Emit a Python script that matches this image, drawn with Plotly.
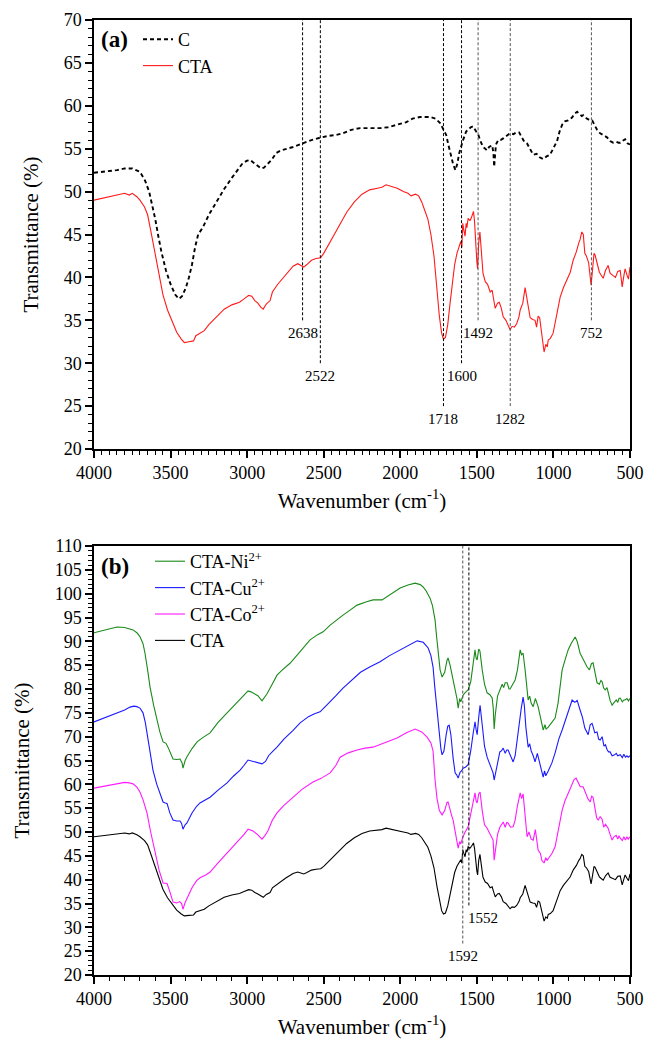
import plotly.graph_objects as go

# ---------------- data ----------------
cta_wn = [4000,3950,3900,3850,3800,3770,3750,3720,3700,3670,3650,3630,3610,3590,3570,3550,3520,3490,3460,3430,
          3410,3380,3350,3335,3310,3280,3250,3200,3150,3100,3050,3020,2990,2970,2950,2930,2910,2895,2875,2850,
          2835,2800,2750,2700,2670,2650,2630,2610,2580,2550,2520,2500,2470,2430,2400,2350,2300,2250,2200,2150,
          2120,2093,2060,2020,1980,1950,1930,1900,1880,1860,1840,1820,1800,1780,1760,1745,1730,1718,1705,1690,
          1675,1660,1645,1630,1615,1605,1598,1592,1585,1577,1570,1565,1557,1545,1535,1522,1515,1507,1500,1495,
          1488,1480,1472,1460,1445,1430,1413,1400,1392,1380,1365,1354,1340,1328,1310,1295,1283,1270,1255,1240,
          1225,1217,1200,1185,1175,1165,1152,1135,1120,1110,1100,1090,1080,1070,1061,1050,1040,1034,1020,1002,
          990,975,956,935,911,890,871,850,835,826,815,805,795,785,770,760,754,745,735,728,
          715,700,690,675,660,643,630,620,610,595,580,564,551,540,532,520,510,500]
cta_t = [49.0,49.2,49.4,49.6,49.8,49.6,49.8,49.4,49.0,48.2,47.3,45.5,43.5,41.5,39.5,38.0,36.2,34.8,33.6,32.8,
         32.4,32.5,32.6,33.2,33.5,33.8,34.5,35.4,36.3,36.8,37.1,37.5,37.9,37.8,37.3,37.0,36.5,36.3,36.9,37.3,
         38.3,39.2,40.3,41.3,41.6,41.4,41.2,41.5,42.0,42.2,42.3,42.8,43.8,45.0,46.0,47.6,48.8,49.7,50.2,50.4,
         50.5,50.8,50.6,50.4,50.0,49.8,49.5,49.7,49.5,48.8,47.8,46.8,45.0,42.5,38.5,35.5,33.5,32.8,33.0,34.5,
         37.0,39.5,41.5,42.8,43.8,44.2,43.5,46.3,45.5,44.8,46.3,45.8,46.9,46.6,47.0,47.7,46.5,43.5,41.8,41.0,
         44.0,45.3,43.5,40.5,39.5,39.2,38.3,38.5,37.6,36.4,37.0,37.1,36.4,35.4,35.0,34.3,33.9,34.3,34.2,34.6,
         35.4,36.2,37.0,38.8,37.8,36.5,35.3,35.1,35.0,34.2,35.5,35.3,33.8,32.6,31.3,32.2,31.9,32.7,32.9,33.5,
         34.5,36.0,37.7,38.8,39.7,40.6,42.0,43.0,44.0,44.4,45.3,45.0,42.8,42.5,41.7,39.7,39.1,40.8,42.8,42.6,
         41.5,40.6,40.3,39.9,40.8,41.4,40.5,40.4,40.2,40.0,40.7,40.8,38.9,40.2,41.0,40.3,39.8,41.2]

c_wn = [4000,3950,3900,3850,3800,3750,3700,3667,3640,3620,3600,3580,3560,3530,3500,3470,3445,3425,3400,3380,
        3360,3340,3320,3290,3250,3200,3150,3100,3060,3030,3000,2980,2960,2940,2910,2890,2860,2840,2810,2780,
        2740,2700,2640,2580,2520,2470,2420,2374,2320,2263,2200,2132,2080,2021,1960,1920,1871,1806,1770,1740,
        1715,1700,1688,1670,1655,1640,1628,1615,1600,1590,1570,1540,1525,1505,1490,1479,1460,1445,1434,1420,
        1400,1392,1387,1380,1375,1361,1345,1328,1305,1283,1260,1245,1224,1205,1190,1172,1150,1132,1110,1090,
        1067,1045,1022,1000,976,960,943,925,904,880,860,845,830,815,806,790,770,747,730,715,
        695,680,665,649,630,610,590,575,564,550,532,515,500]
c_t = [52.2,52.3,52.4,52.5,52.7,52.7,52.3,51.3,50.0,48.5,46.8,44.8,43.0,40.8,39.2,38.0,37.5,37.8,38.8,40.0,
       41.5,43.5,45.0,45.8,47.3,48.8,50.3,51.6,52.6,53.3,53.6,53.7,53.4,53.1,52.7,52.8,53.3,53.7,54.5,54.8,
       55.0,55.2,55.6,56.0,56.3,56.5,56.6,56.8,57.2,57.4,57.4,57.4,57.5,57.8,58.1,58.5,58.7,58.7,58.5,58.0,
       57.2,56.6,55.6,54.2,53.2,52.5,53.2,54.5,55.6,56.0,57.0,57.5,57.6,57.0,56.6,56.0,55.2,55.0,54.8,55.2,
       55.4,54.5,52.9,54.5,55.5,56.0,56.0,56.2,56.5,56.8,56.7,56.9,56.9,56.3,55.8,55.6,54.9,54.3,54.4,54.0,
       53.8,54.1,54.3,55.0,55.9,57.0,57.8,58.2,58.3,58.6,59.1,59.3,59.1,58.8,58.9,58.6,58.4,58.3,57.7,57.2,
       56.8,56.6,56.5,56.3,55.9,55.7,55.8,55.7,55.7,55.9,56.1,55.6,55.5]

ni_wn = [4000,3950,3900,3850,3800,3745,3720,3700,3680,3667,3650,3634,3610,3589,3570,3549,3530,3517,3500,3484,
         3460,3438,3425,3419,3405,3393,3360,3327,3290,3242,3190,3131,3060,3020,2994,2975,2961,2930,2903,2885,
         2870,2840,2805,2770,2720,2650,2589,2540,2504,2458,2420,2374,2330,2282,2220,2178,2119,2060,2001,1950,
         1903,1870,1851,1830,1805,1790,1773,1763,1753,1740,1727,1710,1695,1688,1675,1665,1655,1640,1630,1622,
         1612,1605,1595,1590,1575,1557,1540,1525,1512,1505,1498,1488,1480,1465,1450,1433,1415,1400,1393,1387,
         1380,1365,1348,1335,1325,1315,1302,1290,1283,1265,1250,1235,1225,1217,1208,1198,1185,1172,1165,1155,
         1145,1132,1118,1100,1085,1075,1067,1055,1048,1034,1020,1005,989,970,955,943,925,904,885,870,
         858,845,835,826,810,795,780,765,752,741,730,715,700,690,682,672,662,650,640,630,
         617,605,590,580,572,564,550,540,532,520,510,500]
ni_t = [91.8,92.2,92.6,93.0,92.9,92.4,91.8,91.0,89.5,87.5,84.0,80.4,76.5,73.5,71.0,68.9,68.6,67.8,66.5,65.3,
        65.2,65.3,64.5,63.4,65.0,65.8,67.5,68.9,69.8,70.8,73.0,75.0,77.3,78.7,79.6,79.4,79.2,78.6,77.5,78.3,
        79.0,80.8,82.9,84.0,85.4,88.0,90.3,91.4,92.0,93.4,94.4,95.5,96.5,97.6,98.3,98.7,98.7,100.0,101.2,101.8,
        102.2,101.9,101.4,100.5,99.0,97.5,94.5,91.0,87.5,84.0,82.5,83.5,86.0,86.5,85.0,83.5,82.5,79.5,78.0,76.0,
        78.0,77.3,78.5,78.7,79.3,79.8,81.5,85.5,88.2,86.5,86.1,88.4,88.0,84.0,81.0,79.2,78.8,78.1,76.0,71.6,
        74.5,78.5,79.8,81.0,80.3,81.3,81.3,80.0,80.0,81.0,81.9,84.0,86.5,88.2,87.2,87.5,84.0,80.0,77.7,78.5,
        77.0,76.3,78.0,76.3,74.0,72.8,71.4,72.5,71.6,72.0,72.6,73.0,73.9,77.0,80.5,84.0,86.0,88.2,89.5,90.3,
        90.9,90.0,88.5,87.5,86.5,85.5,84.6,84.0,85.3,85.5,84.0,81.3,81.0,81.8,81.5,80.2,79.8,80.3,79.0,77.6,
        76.6,77.0,77.7,77.2,78.0,78.1,77.3,77.7,77.7,78.0,77.5,78.0]

cu_wn = [4000,3950,3900,3850,3800,3765,3740,3720,3700,3680,3665,3650,3630,3615,3590,3565,3549,3535,3523,3505,
         3484,3460,3438,3428,3419,3405,3393,3360,3330,3308,3270,3242,3190,3131,3090,3046,3020,2994,2960,2930,
         2903,2880,2860,2830,2805,2760,2700,2654,2600,2560,2524,2490,2458,2420,2374,2320,2260,2200,2132,2070,
         2001,1950,1890,1850,1818,1800,1786,1775,1765,1760,1745,1735,1727,1715,1700,1690,1681,1670,1655,1642,
         1632,1622,1610,1600,1590,1575,1557,1540,1525,1512,1505,1498,1488,1479,1465,1450,1433,1415,1400,1394,
         1387,1380,1365,1350,1340,1328,1315,1305,1296,1280,1263,1250,1235,1220,1210,1198,1190,1180,1165,1155,
         1145,1132,1120,1105,1095,1080,1067,1058,1050,1034,1010,989,965,943,920,900,878,860,845,826,
         810,795,780,773,760,748,741,730,715,705,695,682,670,660,650,640,630,617,600,590,
         580,564,550,540,530,520,512,500]
cu_t = [73.1,73.7,74.3,75.0,75.6,76.2,76.4,76.3,76.0,75.0,73.0,70.0,66.5,63.0,60.0,57.5,56.3,56.1,56.0,54.0,
        52.5,52.3,52.3,51.8,50.6,51.5,51.9,54.0,55.4,56.1,56.7,57.3,58.8,60.3,61.7,63.0,64.0,65.1,64.8,64.6,
        64.3,64.8,66.0,67.0,67.8,69.5,71.3,72.9,74.2,74.8,75.2,76.3,77.3,78.6,80.2,81.8,83.5,84.6,85.7,87.0,
        88.2,89.0,90.1,89.8,88.6,87.0,84.6,80.5,77.0,75.0,70.0,67.5,66.2,67.0,70.5,72.2,72.4,70.5,65.5,62.4,
        62.0,61.3,62.5,62.8,63.4,63.6,64.1,67.0,70.5,73.1,71.5,70.4,74.0,76.6,72.5,68.0,65.7,64.0,62.8,62.4,
        60.9,62.0,64.5,66.8,67.0,67.6,66.5,67.2,67.2,66.0,64.7,66.0,70.0,73.5,76.0,78.3,76.5,72.0,67.8,68.5,
        67.0,66.0,64.7,66.5,65.0,63.0,61.5,62.8,61.8,62.8,64.5,66.6,69.5,71.4,73.5,75.5,77.7,77.2,77.6,75.6,
        74.0,71.8,71.0,70.4,72.5,72.8,72.1,70.8,71.0,69.5,69.3,70.0,68.0,68.3,67.3,66.8,66.8,66.0,66.2,66.5,
        66.0,66.2,65.6,66.3,65.7,66.0,65.7,66.0]

co_wn = [4000,3950,3900,3850,3830,3800,3770,3745,3720,3700,3680,3654,3630,3602,3575,3549,3535,3523,3505,3484,
         3460,3440,3428,3419,3405,3393,3360,3330,3308,3270,3242,3190,3131,3060,3020,2994,2975,2961,2930,2903,
         2885,2863,2835,2805,2760,2700,2640,2570,2520,2458,2420,2393,2340,2282,2230,2178,2100,2021,1960,1903,
         1860,1825,1800,1786,1773,1760,1745,1727,1710,1695,1688,1675,1665,1655,1640,1632,1622,1612,1605,1596,
         1580,1557,1540,1525,1512,1505,1498,1488,1479,1465,1450,1433,1415,1400,1394,1387,1380,1365,1350,1340,
         1328,1315,1305,1296,1280,1263,1250,1235,1225,1217,1208,1198,1185,1172,1160,1145,1132,1118,1100,1085,
         1075,1061,1050,1040,1034,1010,989,965,943,925,904,880,865,852,840,825,806,790,775,760,
         750,741,730,718,708,695,682,672,660,650,643,630,617,605,590,580,572,564,550,540,
         530,520,512,500]
co_t = [59.2,59.5,59.8,60.1,60.3,60.4,60.3,60.1,59.4,58.4,56.8,54.0,50.0,45.6,42.0,39.3,39.2,39.2,37.5,35.3,
        35.1,35.4,35.0,33.8,35.2,36.1,38.3,39.8,40.4,41.0,41.6,43.5,45.6,48.0,49.5,50.6,50.4,50.2,49.4,48.5,
        49.2,50.3,52.5,54.0,55.6,57.3,59.0,60.5,61.2,62.4,64.0,65.7,66.6,67.2,67.6,67.8,68.7,69.7,70.8,71.6,
        71.0,69.9,68.7,67.0,60.9,57.0,54.5,53.6,54.5,56.2,56.3,54.5,53.5,52.5,49.5,48.5,46.6,48.0,47.5,48.5,
        49.8,51.1,54.0,56.5,58.2,56.5,56.1,58.0,58.4,54.5,51.5,50.8,49.5,48.8,48.3,44.1,46.0,49.5,51.0,51.5,
        52.1,51.0,52.0,51.9,51.0,51.1,52.5,55.5,57.5,58.2,57.0,58.0,53.5,49.0,50.0,48.5,48.3,50.5,46.2,45.5,
        44.0,43.5,44.6,44.0,44.4,45.5,46.9,51.0,54.6,56.5,58.2,59.8,61.0,61.3,60.5,59.5,59.5,58.0,57.0,56.3,
        57.5,57.3,55.0,53.0,52.5,53.2,52.7,51.0,51.6,51.0,50.8,49.5,48.3,49.0,49.3,48.5,49.2,48.7,48.2,49.0,
        48.3,49.0,48.5,49.0]

# marked bands
peaks_a = [2638, 2522, 1718, 1600, 1492, 1282, 752]
peak_ends_a = [35, 30, 25, 30, 35, 25, 35]
peaks_b = [1592, 1552]
peak_ends_b = [26.6, 34.6]

x_ticks = [4000, 3500, 3000, 2500, 2000, 1500, 1000, 500]

# ---------------- styling ----------------
SERIF = "Liberation Serif"
W, H = 646, 1040
xdom = [94 / W, 630 / W]
ydom_a = [1 - 449 / H, 1 - 20 / H]
ydom_b = [1 - 975 / H, 1 - 546 / H]

fig = go.Figure()

fig.add_trace(go.Scatter(x=c_wn, y=c_t, mode="lines", name="C",
                         line=dict(color="black", width=1.9, dash="4px,3px"),
                         xaxis="x", yaxis="y", legend="legend"))
fig.add_trace(go.Scatter(x=cta_wn, y=cta_t, mode="lines", name="CTA",
                         line=dict(color="#ff1a1a", width=1.1),
                         xaxis="x", yaxis="y", legend="legend"))

for name, xs, ys, col in [("CTA-Ni<sup>2+</sup>", ni_wn, ni_t, "#1a8a1a"),
                          ("CTA-Cu<sup>2+</sup>", cu_wn, cu_t, "#1a1aff"),
                          ("CTA-Co<sup>2+</sup>", co_wn, co_t, "#ff1aff"),
                          ("CTA", cta_wn, cta_t, "black")]:
    fig.add_trace(go.Scatter(x=xs, y=ys, mode="lines", name=name,
                             line=dict(color=col, width=1.1),
                             xaxis="x2", yaxis="y2", legend="legend2"))

shapes = []
annotations = []
for i, (p, e) in enumerate(zip(peaks_a, peak_ends_a)):
    col = "black" if i < 4 else "#555555"
    shapes.append(dict(type="line", xref="x", yref="y", x0=p, x1=p, y0=e, y1=70,
                       line=dict(color=col, width=1, dash="3px,2px")))
    annotations.append(dict(xref="x", yref="y", x=p, y=e - 0.3, text=str(p), showarrow=False,
                            yanchor="top", font=dict(family=SERIF, size=15, color="black")))
for i, (p, e) in enumerate(zip(peaks_b, peak_ends_b)):
    col = "#555555" if i == 0 else "black"
    shapes.append(dict(type="line", xref="x2", yref="y2", x0=p, x1=p, y0=e, y1=110,
                       line=dict(color=col, width=1, dash="3px,2px")))
    annotations.append(dict(xref="x2", yref="y2", x=p, y=e - 0.6, text=str(p), showarrow=False,
                            yanchor="top", xshift=(0 if i == 0 else 14),
                            font=dict(family=SERIF, size=15, color="black")))

annotations.append(dict(xref="paper", yref="paper", x=99 / W, y=1 - 40 / H, text="<b>(a)</b>",
                        showarrow=False, xanchor="left", yanchor="middle",
                        font=dict(family=SERIF, size=23, color="black")))
annotations.append(dict(xref="paper", yref="paper", x=99 / W, y=1 - 566 / H, text="<b>(b)</b>",
                        showarrow=False, xanchor="left", yanchor="middle",
                        font=dict(family=SERIF, size=23, color="black")))


def xaxis_cfg(anchor, minor_dt):
    return dict(domain=xdom, anchor=anchor, range=[4000, 500], tickvals=x_ticks,
                showline=True, linecolor="black", linewidth=1.5, mirror=True,
                ticks="outside", ticklen=7, tickwidth=1.5, tickcolor="black",
                minor=dict(ticks="outside", ticklen=4, tickwidth=1, tickcolor="black", dtick=minor_dt,
                           showgrid=False),
                showgrid=False, zeroline=False,
                tickfont=dict(family=SERIF, size=18, color="black"),
                title=dict(text="Wavenumber (cm<sup>-1</sup>)", standoff=11,
                           font=dict(family=SERIF, size=21, color="black")))


def yaxis_cfg(anchor, dom, rng, dt):
    return dict(domain=dom, anchor=anchor, range=rng, dtick=dt,
                showline=True, linecolor="black", linewidth=1.5, mirror=True,
                ticks="outside", ticklen=7, tickwidth=1.5, tickcolor="black",
                minor=dict(ticks="outside", ticklen=4, tickwidth=1, tickcolor="black", dtick=1,
                           showgrid=False),
                showgrid=False, zeroline=False,
                tickfont=dict(family=SERIF, size=18, color="black"),
                title=dict(text="Transmittance (%)", standoff=19,
                           font=dict(family=SERIF, size=21, color="black")))


fig.update_layout(
    width=W, height=H,
    margin=dict(l=0, r=0, t=0, b=0, autoexpand=False),
    paper_bgcolor="white", plot_bgcolor="white",
    font=dict(family=SERIF, color="black"),
    xaxis=xaxis_cfg("y", 50),
    yaxis=yaxis_cfg("x", ydom_a, [20, 70], 5),
    xaxis2=xaxis_cfg("y2", 100),
    yaxis2=yaxis_cfg("x2", ydom_b, [20, 110], 5),
    legend=dict(x=138 / W, y=1 - 21 / H, xanchor="left", yanchor="top",
                bgcolor="rgba(0,0,0,0)", font=dict(family=SERIF, size=18, color="black"),
                tracegroupgap=0),
    legend2=dict(x=150 / W, y=1 - 543 / H, xanchor="left", yanchor="top",
                 bgcolor="rgba(0,0,0,0)", font=dict(family=SERIF, size=18, color="black"),
                 tracegroupgap=0),
    shapes=shapes, annotations=annotations,
)

fig.write_html("out.html", config={"displayModeBar": False},
               post_script="document.body.style.margin='0';document.body.style.overflow='hidden';")
